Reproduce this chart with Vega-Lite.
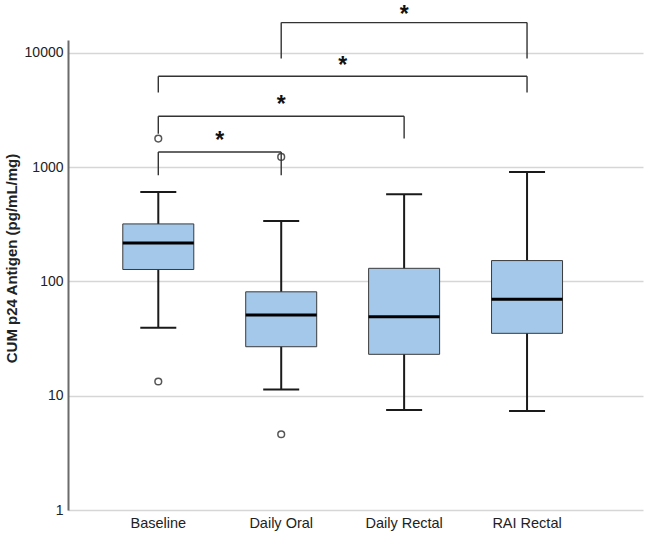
{
  "$schema": "https://vega.github.io/schema/vega-lite/v6.json",
  "autosize": {"type": "none"},
  "padding": {"left": 68, "top": 40, "right": 7, "bottom": 28},
  "width": 575,
  "height": 470,
  "background": "white",
  "config": {
    "view": {"stroke": null},
    "font": "Liberation Sans"
  },
  "datasets": {
    "boxes": [
      {"group": "Baseline", "lower": 39.2, "q1": 127, "median": 216, "q3": 318, "upper": 606},
      {"group": "Daily Oral", "lower": 11.3, "q1": 26.8, "median": 50.7, "q3": 81, "upper": 338},
      {"group": "Daily Rectal", "lower": 7.48, "q1": 23, "median": 49, "q3": 130, "upper": 578},
      {"group": "RAI Rectal", "lower": 7.33, "q1": 35.1, "median": 69.9, "q3": 152, "upper": 906}
    ],
    "outliers": [
      {"group": "Baseline", "value": 1775},
      {"group": "Baseline", "value": 13.3},
      {"group": "Daily Oral", "value": 1225},
      {"group": "Daily Oral", "value": 4.6}
    ],
    "brackets": [
      {"from": "Baseline", "to": "Daily Oral", "level": 1355, "star": 1897},
      {"from": "Baseline", "to": "Daily Rectal", "level": 2780, "star": 3917},
      {"from": "Baseline", "to": "RAI Rectal", "level": 6220, "star": 8590},
      {"from": "Daily Oral", "to": "RAI Rectal", "level": 18330, "star": 24270}
    ],
    "legs": [
      {"group": "Baseline", "bottom": 848, "top": 1355},
      {"group": "Daily Oral", "bottom": 848, "top": 1355},
      {"group": "Baseline", "bottom": 1954, "top": 2780},
      {"group": "Daily Rectal", "bottom": 1775, "top": 2780},
      {"group": "Baseline", "bottom": 4478, "top": 6220},
      {"group": "RAI Rectal", "bottom": 4478, "top": 6220},
      {"group": "Daily Oral", "bottom": 8880, "top": 18330},
      {"group": "RAI Rectal", "bottom": 8880, "top": 18330}
    ]
  },
  "encoding": {
    "x": {
      "field": "group",
      "type": "nominal",
      "scale": {
        "domain": ["Baseline", "Daily Oral", "Daily Rectal", "RAI Rectal"],
        "paddingInner": 0,
        "paddingOuter": 0.339,
        "align": 0.346
      },
      "axis": {
        "title": null,
        "domain": false,
        "ticks": false,
        "labelAngle": 0,
        "labelFont": "Liberation Sans",
        "labelFontSize": 14.5,
        "labelColor": "#222222",
        "labelPadding": 6
      }
    }
  },
  "layer": [
    {
      "data": {"name": "boxes"},
      "mark": {"type": "rule", "color": "#1a1a1a", "strokeWidth": 2},
      "encoding": {
        "y": {
          "field": "lower",
          "type": "quantitative",
          "scale": {"type": "log", "domain": [1, 12916], "nice": false},
          "axis": {
            "values": [1, 10, 100, 1000, 10000],
            "format": "d",
            "ticks": false,
            "grid": true,
            "gridColor": "#d6d6d6",
            "gridWidth": 1.6,
            "domainColor": "#6b6b6b",
            "domainWidth": 2,
            "labelFont": "Liberation Sans",
            "labelFontSize": 14,
            "labelColor": "#222222",
            "labelPadding": 5,
            "title": "CUM p24 Antigen (pg/mL/mg)",
            "titleFont": "Liberation Sans",
            "titleFontSize": 15,
            "titleFontWeight": "bold",
            "titleColor": "#222222",
            "titleAngle": -90,
            "titleX": -57,
            "titleY": 218,
            "titleAlign": "center",
            "titleBaseline": "middle"
          }
        },
        "y2": {"field": "upper"}
      }
    },
    {
      "data": {"name": "boxes"},
      "mark": {"type": "bar", "size": 71, "fill": "#a3c8ea", "stroke": "#3a3a3a", "strokeWidth": 1},
      "encoding": {
        "y": {"field": "q1", "type": "quantitative"},
        "y2": {"field": "q3"}
      }
    },
    {
      "data": {"name": "boxes"},
      "mark": {"type": "tick", "size": 71, "thickness": 3, "color": "#000000", "opacity": 1},
      "encoding": {
        "y": {"field": "median", "type": "quantitative"}
      }
    },
    {
      "data": {"name": "boxes"},
      "mark": {"type": "tick", "size": 36, "thickness": 2, "color": "#1a1a1a", "opacity": 1},
      "encoding": {
        "y": {"field": "upper", "type": "quantitative"}
      }
    },
    {
      "data": {"name": "boxes"},
      "mark": {"type": "tick", "size": 36, "thickness": 2, "color": "#1a1a1a", "opacity": 1},
      "encoding": {
        "y": {"field": "lower", "type": "quantitative"}
      }
    },
    {
      "data": {"name": "outliers"},
      "mark": {"type": "point", "shape": "circle", "filled": false, "size": 45, "stroke": "#555555", "strokeWidth": 1.5, "opacity": 1},
      "encoding": {
        "y": {"field": "value", "type": "quantitative"}
      }
    },
    {
      "data": {"name": "legs"},
      "mark": {"type": "rule", "color": "#333333", "strokeWidth": 1.4},
      "encoding": {
        "y": {"field": "bottom", "type": "quantitative"},
        "y2": {"field": "top"}
      }
    },
    {
      "data": {"name": "brackets"},
      "mark": {"type": "rule", "color": "#333333", "strokeWidth": 1.4},
      "encoding": {
        "x": {"field": "from", "type": "nominal"},
        "x2": {"field": "to"},
        "y": {"field": "level", "type": "quantitative"}
      }
    },
    {
      "data": {"name": "brackets"},
      "mark": {
        "type": "text",
        "text": "*",
        "font": "Liberation Sans",
        "fontSize": 23,
        "fontWeight": "bold",
        "color": "#111111",
        "baseline": "alphabetic",
        "dy": 13,
        "dx": {"expr": "(scale('x', datum.to) - scale('x', datum.from)) / 2"}
      },
      "encoding": {
        "x": {"field": "from", "type": "nominal"},
        "y": {"field": "star", "type": "quantitative"}
      }
    },
    {
      "data": {"values": [{}]},
      "mark": {"type": "rule", "color": "#6b6b6b", "strokeWidth": 2},
      "encoding": {
        "y": {"datum": 1, "type": "quantitative"}
      }
    }
  ]
}
